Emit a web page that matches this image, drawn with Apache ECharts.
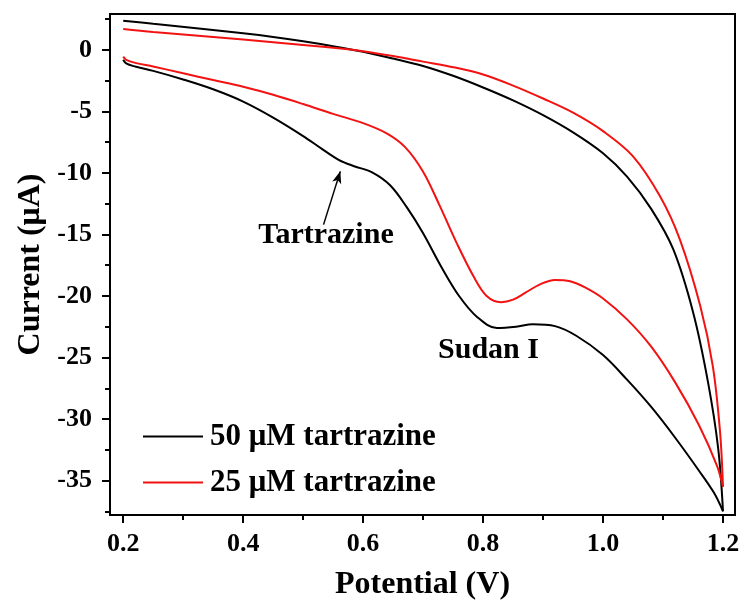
<!DOCTYPE html>
<html>
<head>
<meta charset="utf-8">
<script src="https://cdn.jsdelivr.net/npm/echarts@6/dist/echarts.min.js"></script>
<style>
  html, body { margin: 0; padding: 0; background: #fff; }
  #chart { width: 745px; height: 606px; }
</style>
</head>
<body>
<div id="chart"></div>
<script>
// Cyclic voltammograms: potential (V) and current (µA) along each scan branch.

// 50 µM tartrazine, cathodic-side branch (0.2 V -> 1.2 V)
const black50LowerV = [0.200, 0.205, 0.22, 0.25, 0.30, 0.35, 0.40, 0.45, 0.50, 0.53, 0.56, 0.585, 0.615, 0.645, 0.673, 0.70, 0.73, 0.76, 0.79, 0.823, 0.855, 0.883, 0.92, 0.956, 1.00, 1.04, 1.08, 1.12, 1.16, 1.185, 1.200];
const black50LowerI = [-0.8, -1.1, -1.35, -1.7, -2.4, -3.2, -4.2, -5.5, -7.0, -8.0, -8.95, -9.45, -9.95, -11.0, -12.8, -14.9, -17.6, -20.0, -21.7, -22.6, -22.5, -22.3, -22.45, -23.25, -24.8, -26.8, -29.0, -31.5, -34.2, -36.0, -37.5];
// 50 µM tartrazine, return branch (1.2 V -> 0.2 V)
const black50UpperV = [1.200, 1.192, 1.175, 1.15, 1.117, 1.08, 1.04, 1.00, 0.95, 0.90, 0.85, 0.80, 0.75, 0.70, 0.65, 0.60, 0.55, 0.50, 0.45, 0.40, 0.33, 0.25, 0.200];
const black50UpperI = [-37.5, -32.4, -27.0, -21.3, -16.2, -12.9, -10.3, -8.4, -6.7, -5.3, -4.1, -3.05, -2.1, -1.3, -0.7, -0.15, 0.3, 0.7, 1.05, 1.35, 1.72, 2.12, 2.38];

// 25 µM tartrazine, cathodic-side branch (0.2 V -> 1.2 V)
const red25LowerV = [0.200, 0.205, 0.22, 0.25, 0.30, 0.35, 0.40, 0.45, 0.50, 0.55, 0.60, 0.64, 0.67, 0.70, 0.728, 0.756, 0.784, 0.806, 0.83, 0.85, 0.87, 0.895, 0.92, 0.945, 0.97, 1.00, 1.04, 1.08, 1.12, 1.16, 1.19, 1.200];
const red25LowerI = [-0.55, -0.8, -1.05, -1.35, -1.9, -2.45, -3.0, -3.65, -4.4, -5.2, -5.95, -6.8, -7.9, -9.9, -12.7, -15.7, -18.4, -20.0, -20.5, -20.3, -19.75, -19.05, -18.7, -18.8, -19.3, -20.2, -21.9, -24.1, -27.0, -30.5, -33.8, -35.5];
// 25 µM tartrazine, return branch (1.2 V -> 0.2 V)
const red25UpperV = [1.200, 1.195, 1.183, 1.162, 1.128, 1.095, 1.05, 1.00, 0.95, 0.90, 0.85, 0.80, 0.75, 0.70, 0.65, 0.60, 0.575, 0.50, 0.40, 0.33, 0.25, 0.200];
const red25UpperI = [-35.5, -31.0, -25.7, -20.8, -15.4, -11.9, -8.65, -6.6, -5.1, -3.95, -2.9, -2.0, -1.4, -0.95, -0.5, -0.1, 0.05, 0.4, 0.85, 1.14, 1.45, 1.70];

// Axis ticks
const xMajorTicks = [0.2, 0.4, 0.6, 0.8, 1.0, 1.2];
const xMinorTicks = [0.3, 0.5, 0.7, 0.9, 1.1];
const yMajorTicks = [-35, -30, -25, -20, -15, -10, -5, 0];
const yMinorTicks = [-37.5, -32.5, -27.5, -22.5, -17.5, -12.5, -7.5, -2.5, 2.5];

// Legend names
const seriesNames = ['50 \u03bcM tartrazine', '25 \u03bcM tartrazine'];

// Peak annotations: [potential, current, text]
const tartrazineLabel = [0.538, -15.1, 'Tartrazine'];
const sudanLabel = [0.809, -24.4, 'Sudan I'];
// Arrow pointing at the tartrazine shoulder: tail and head
const arrowTail = [0.534, -14.2];
const arrowHead = [0.562, -9.87];

const FONT = '"Liberation Serif", "Times New Roman", serif';
const BLACK = '#000000';
const RED = '#f21212';
const xRange = [0.178, 1.22];
const yRange = [-37.8, 2.92];

function zip(v, i) { return v.map((x, k) => [x, i[k]]); }

const lineBase = {
  type: 'line', showSymbol: false, symbol: 'none', smooth: 0.35,
  xAxisIndex: 0, yAxisIndex: 0, animation: false, z: 3
};

const chart = echarts.init(document.getElementById('chart'), null, { renderer: 'canvas' });

chart.setOption({
  animation: false,
  backgroundColor: '#fff',
  grid: {
    left: 110, right: 10, top: 14, bottom: 90,
    show: true, borderColor: '#000', borderWidth: 2, backgroundColor: 'transparent'
  },
  legend: {
    orient: 'vertical', left: 143, top: 421, padding: 0,
    icon: 'path://M0,0H60V2H0Z',
    itemWidth: 60, itemHeight: 28, itemGap: 15,
    textStyle: { fontFamily: FONT, fontWeight: 'bold', fontSize: 31, color: '#000', padding: [0, 0, 0, 2] },
    data: seriesNames
  },
  xAxis: [
    {
      type: 'value', position: 'bottom', min: xRange[0], max: xRange[1],
      name: 'Potential (V)', nameLocation: 'middle', nameGap: 54,
      nameTextStyle: { fontFamily: FONT, fontWeight: 'bold', fontSize: 32, color: '#000' },
      axisLine: { show: true, onZero: false, lineStyle: { color: '#000', width: 2 } },
      axisTick: { show: true, inside: false, length: 8, customValues: xMajorTicks, lineStyle: { color: '#000', width: 2 } },
      axisLabel: {
        show: true, customValues: xMajorTicks, margin: 16,
        formatter: v => v.toFixed(1),
        fontFamily: FONT, fontWeight: 'bold', fontSize: 26, color: '#000'
      },
      splitLine: { show: false }
    },
    {
      type: 'value', position: 'bottom', min: xRange[0], max: xRange[1],
      axisLine: { show: false, onZero: false },
      axisTick: { show: true, inside: false, length: 5, customValues: xMinorTicks, lineStyle: { color: '#000', width: 2 } },
      axisLabel: { show: false },
      splitLine: { show: false }
    }
  ],
  yAxis: [
    {
      type: 'value', position: 'left', min: yRange[0], max: yRange[1],
      name: 'Current (\u03bcA)', nameLocation: 'middle', nameGap: 63, nameRotate: 90,
      nameTextStyle: { fontFamily: FONT, fontWeight: 'bold', fontSize: 32, color: '#000' },
      axisLine: { show: true, onZero: false, lineStyle: { color: '#000', width: 2 } },
      axisTick: { show: true, inside: false, length: 8, customValues: yMajorTicks, lineStyle: { color: '#000', width: 2 } },
      axisLabel: {
        show: true, customValues: yMajorTicks, margin: 18,
        formatter: v => String(v),
        fontFamily: FONT, fontWeight: 'bold', fontSize: 26, color: '#000'
      },
      splitLine: { show: false }
    },
    {
      type: 'value', position: 'left', min: yRange[0], max: yRange[1],
      axisLine: { show: false, onZero: false },
      axisTick: { show: true, inside: false, length: 5, customValues: yMinorTicks, lineStyle: { color: '#000', width: 2 } },
      axisLabel: { show: false },
      splitLine: { show: false }
    }
  ],
  series: [
    Object.assign({}, lineBase, {
      name: seriesNames[0],
      data: zip(black50LowerV, black50LowerI),
      lineStyle: { color: BLACK, width: 2 }, itemStyle: { color: BLACK },
      markLine: {
        silent: true, animation: false,
        symbol: ['none', 'arrow'], symbolSize: [7, 12],
        lineStyle: { color: '#000', width: 1.5, type: 'solid' },
        label: { show: false },
        data: [[{ coord: arrowTail }, { coord: arrowHead }]]
      },
      markPoint: {
        silent: true, animation: false,
        symbol: 'circle', symbolSize: 1, itemStyle: { color: 'rgba(0,0,0,0)' },
        label: {
          show: true, position: 'inside', formatter: p => p.name,
          fontFamily: FONT, fontWeight: 'bold', fontSize: 30, color: '#000'
        },
        data: [
          { name: tartrazineLabel[2], coord: [tartrazineLabel[0], tartrazineLabel[1]] },
          { name: sudanLabel[2], coord: [sudanLabel[0], sudanLabel[1]] }
        ]
      }
    }),
    Object.assign({}, lineBase, {
      name: seriesNames[0],
      data: zip(black50UpperV, black50UpperI),
      lineStyle: { color: BLACK, width: 2 }, itemStyle: { color: BLACK }
    }),
    Object.assign({}, lineBase, {
      name: seriesNames[1],
      data: zip(red25LowerV, red25LowerI),
      lineStyle: { color: RED, width: 2 }, itemStyle: { color: RED }
    }),
    Object.assign({}, lineBase, {
      name: seriesNames[1],
      data: zip(red25UpperV, red25UpperI),
      lineStyle: { color: RED, width: 2 }, itemStyle: { color: RED }
    })
  ]
});
</script>
</body>
</html>
